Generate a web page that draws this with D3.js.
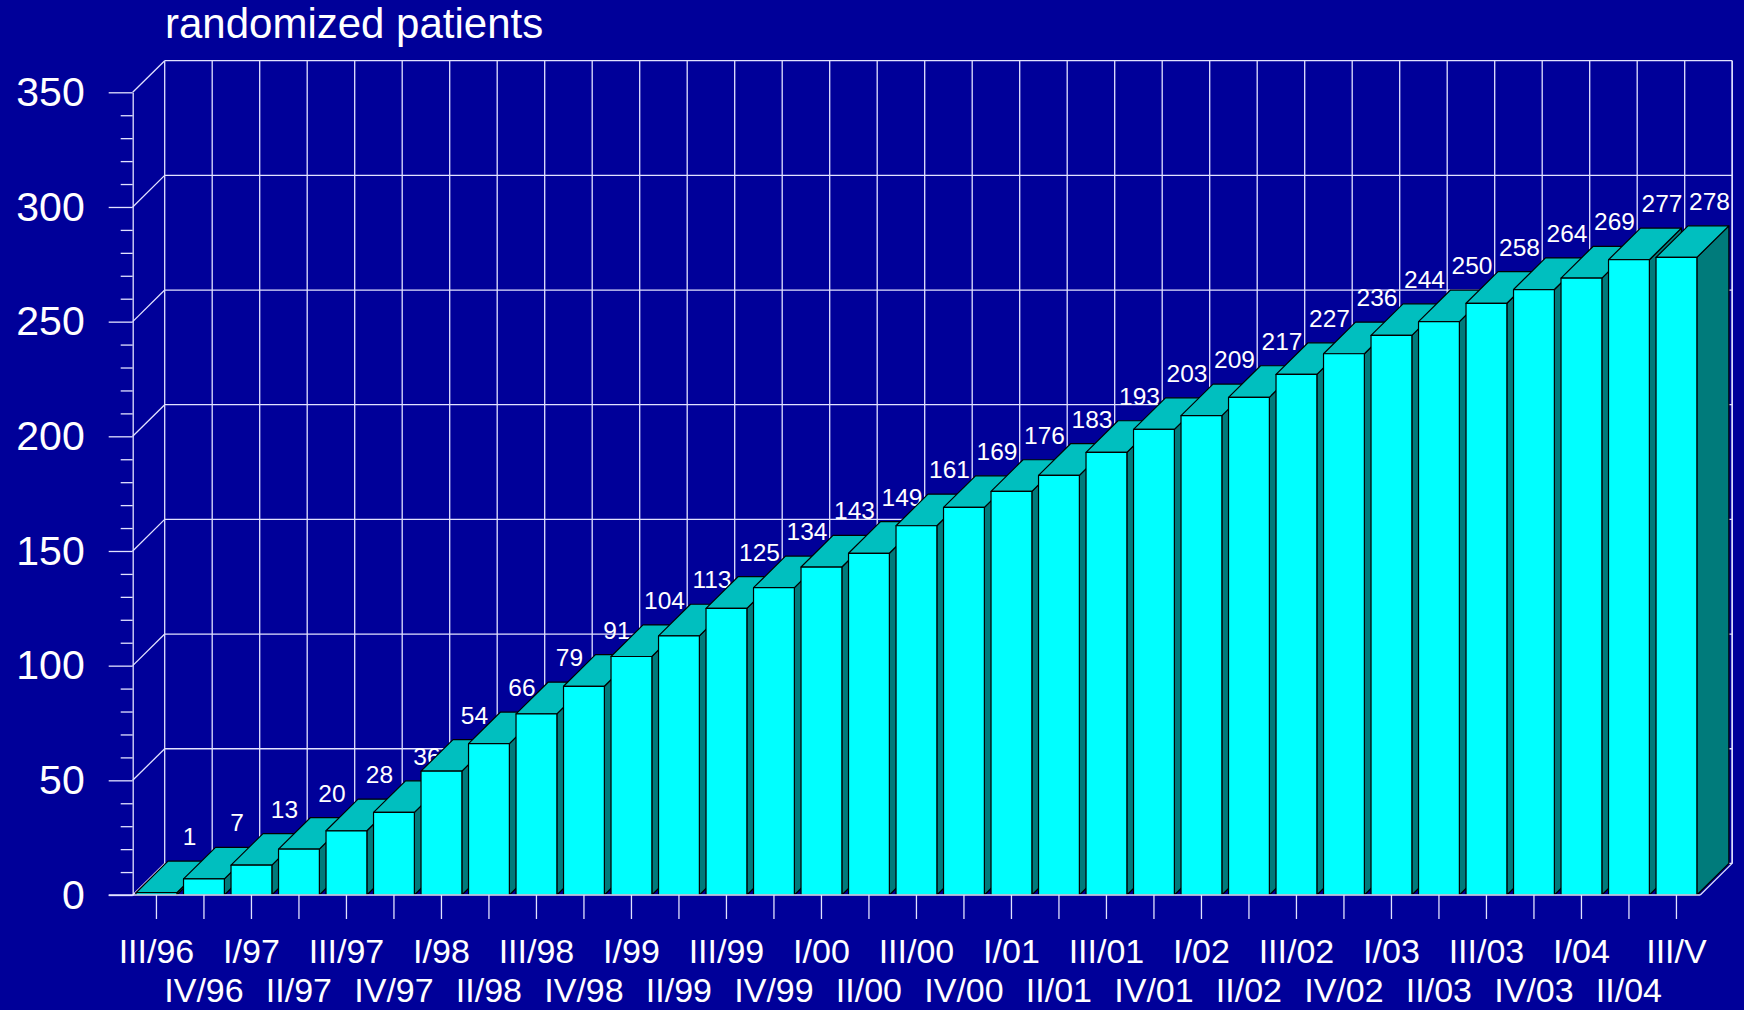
<!DOCTYPE html>
<html>
<head>
<meta charset="utf-8">
<script src="https://cdn.jsdelivr.net/npm/d3@7"></script>
<style>
  body { margin: 0; background: #000099; }
  svg { display: block; font-family: "Liberation Sans", Arial, sans-serif; }
</style>
</head>
<body>
<div id="chart"></div>
<script>
// quarters and cumulative randomized patients
const quarters = ["III/96", "IV/96", "I/97", "II/97", "III/97", "IV/97", "I/98", "II/98",
  "III/98", "IV/98", "I/99", "II/99", "III/99", "IV/99", "I/00", "II/00", "III/00", "IV/00",
  "I/01", "II/01", "III/01", "IV/01", "I/02", "II/02", "III/02", "IV/02", "I/03", "II/03",
  "III/03", "IV/03", "I/04", "II/04", "III/V"]
const patients = [1, 7, 13, 20, 28, 36, 54, 66, 79, 91, 104, 113, 125, 134, 143, 149, 161,
  169, 176, 183, 193, 203, 209, 217, 227, 236, 244, 250, 258, 264, 269, 277, 278]
const yTicks = [0, 50, 100, 150, 200, 250, 300, 350]
const title = "randomized patients"

const width = 1744, height = 1010
const plot = {left: 132.7, right: 1700.2, top: 92.3, bottom: 895}
// 3d depth offset
const dx = 32, dy = -31.6

const svg = d3.select("#chart").append("svg")
  .attr("width", width)
  .attr("height", height)

svg.append("rect").attr("width", width).attr("height", height).attr("fill", "#000099")

let x = d3.scaleBand()
  .domain(quarters)
  .range([plot.left, plot.right])
  .paddingInner(0.14)
  .paddingOuter(0.07)

let y = d3.scaleLinear()
  .domain([0, 350])
  .range([plot.bottom, plot.top])

const step = x.step()
const gridColor = "#e2e2ff"

// back wall grid
const wall = svg.append("g").attr("stroke", gridColor).attr("stroke-width", 1.3).attr("fill", "none")
yTicks.forEach(t => {
  wall.append("line")
    .attr("x1", plot.left + dx).attr("x2", plot.right + dx)
    .attr("y1", y(t) + dy).attr("y2", y(t) + dy)
  wall.append("line")
    .attr("x1", plot.left).attr("x2", plot.left + dx)
    .attr("y1", y(t)).attr("y2", y(t) + dy)
})
d3.range(quarters.length + 1).forEach(i => {
  let gx = plot.left + i * step + dx
  wall.append("line")
    .attr("x1", gx).attr("x2", gx)
    .attr("y1", y(350) + dy).attr("y2", y(0) + dy)
})

// y axis
let yAxis = d3.axisLeft(y)
  .tickValues(d3.range(0, 351, 10))
  .tickSize(12)
  .tickSizeOuter(0)
  .tickPadding(24)
  .tickFormat(d => yTicks.includes(d) ? d : "")

let gy = svg.append("g")
  .attr("transform", `translate(${plot.left},0)`)
  .call(yAxis)
gy.select(".domain").attr("stroke", gridColor).attr("stroke-width", 1.3)
gy.selectAll(".tick line").attr("stroke", gridColor).attr("stroke-width", 1.3)
  .attr("x2", d => yTicks.includes(d) ? -24 : -12)
gy.selectAll(".tick text")
  .attr("fill", "#ffffff")
  .attr("font-size", 41)
  .attr("x", -48)

// bars
const bw = x.bandwidth()
patients.forEach((v, i) => {
  let x0 = x(quarters[i]), yt = y(v), y0 = y(0)
  let g = svg.append("g").attr("stroke", "#000000").attr("stroke-width", 1.2).attr("stroke-linejoin", "round")
  g.append("polygon")
    .attr("fill", "#007b7b")
    .attr("points", [[x0 + bw, yt], [x0 + bw + dx, yt + dy], [x0 + bw + dx, y0 + dy], [x0 + bw, y0]].join(" "))
  g.append("polygon")
    .attr("fill", "#00bfbf")
    .attr("points", [[x0, yt], [x0 + dx, yt + dy], [x0 + bw + dx, yt + dy], [x0 + bw, yt]].join(" "))
  g.append("rect")
    .attr("fill", "#00ffff")
    .attr("x", x0).attr("y", yt)
    .attr("width", bw).attr("height", y0 - yt)
  svg.append("text")
    .attr("x", x0 + bw / 2 + dx + 1)
    .attr("y", yt + dy - 16)
    .attr("text-anchor", "middle")
    .attr("fill", "#ffffff")
    .attr("font-size", 24.5)
    .text(v)
})

// floor edge and right wall edge
const edge = svg.append("g").attr("stroke", gridColor).attr("stroke-width", 1.3)
edge.append("line").attr("x1", plot.right).attr("y1", y(0)).attr("x2", plot.right + dx).attr("y2", y(0) + dy)
edge.append("line").attr("x1", plot.right + dx).attr("y1", y(0) + dy).attr("x2", plot.right + dx).attr("y2", y(350) + dy)

// x axis
let xAxis = d3.axisBottom(x)
  .tickSize(24)
  .tickSizeOuter(0)
  .tickPadding(12)

let gx = svg.append("g")
  .attr("transform", `translate(0,${plot.bottom})`)
  .call(xAxis)
gx.select(".domain").attr("stroke", gridColor).attr("stroke-width", 1.3)
  .attr("d", `M${plot.left - 24},0H${plot.right}`)
gx.selectAll(".tick line").attr("stroke", gridColor).attr("stroke-width", 1.3)
gx.selectAll(".tick text")
  .attr("fill", "#ffffff")
  .attr("font-size", 34)
  .attr("dy", null)
  .attr("y", (d, i) => i % 2 === 0 ? 68 : 107)

svg.append("text")
  .attr("x", 165)
  .attr("y", 38)
  .attr("fill", "#ffffff")
  .attr("font-size", 42)
  .text(title)
</script>
</body>
</html>
